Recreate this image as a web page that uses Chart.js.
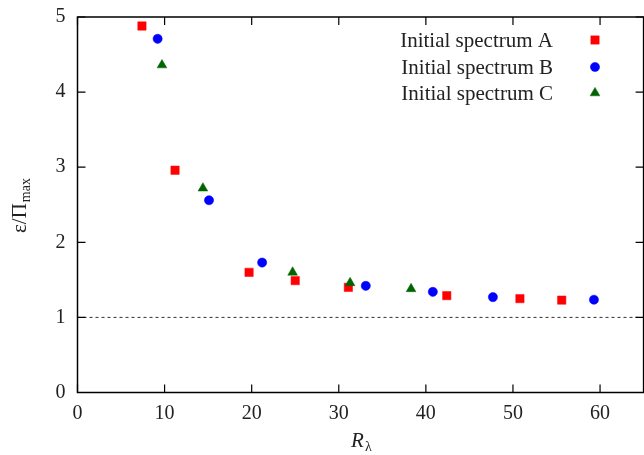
<!DOCTYPE html>
<html>
<head>
<meta charset="utf-8">
<script src="https://cdn.jsdelivr.net/npm/chart.js@4/dist/chart.umd.min.js"></script>
<style>
  html, body { margin: 0; padding: 0; background: #fff; overflow: hidden; }
  #wrap { width: 644px; height: 455px; overflow: hidden; }
</style>
</head>
<body>
<div id="wrap"><canvas id="dissChart" width="650" height="455"></canvas></div>
<script>

// R_lambda and eps/Pi_max for each initial spectrum
var specA_R = [7.4, 11.2, 19.7, 25.0, 31.1, 42.4, 50.8, 55.6];
var specA_E = [4.88, 2.96, 1.60, 1.49, 1.40, 1.29, 1.25, 1.23];

var specB_R = [9.2, 15.1, 21.2, 33.1, 40.8, 47.7, 59.3];
var specB_E = [4.71, 2.56, 1.73, 1.42, 1.34, 1.27, 1.235];

var specC_R = [9.7, 14.4, 24.7, 31.3, 38.3];
var specC_E = [4.36, 2.72, 1.60, 1.46, 1.38];

var seriesNames = ['Initial spectrum A', 'Initial spectrum B', 'Initial spectrum C'];
var refLevel = 1;
var xRange = [0, 65];
var yRange = [0, 5];

function toPoints(xs, ys) {
    return xs.map((x, i) => ({ x: x, y: ys[i] }));
}

const serif = '"Liberation Serif", "DejaVu Serif", serif';
const markerColors = ['#ff0000', '#0000ff', '#006400'];
const markerStyles = ['rect', 'circle', 'triangle'];
const markerSizes = [5.9, 4.6, 5.6];

// frame, inward ticks, axis titles and key
const decorPlugin = {
    id: 'decor',
    afterDraw(chart) {
        const ctx = chart.ctx;
        const a = chart.chartArea;
        const xs = chart.scales.x, ys = chart.scales.y;
        const tl = 8;
        ctx.save();
        ctx.strokeStyle = '#000';
        ctx.lineWidth = 1.5;
        ctx.strokeRect(a.left, a.top, a.right - a.left, a.bottom - a.top);
        ctx.lineWidth = 1.2;
        ctx.beginPath();
        xs.ticks.forEach(t => {
            const px = xs.getPixelForValue(t.value);
            ctx.moveTo(px, a.bottom); ctx.lineTo(px, a.bottom - tl);
            ctx.moveTo(px, a.top); ctx.lineTo(px, a.top + tl);
        });
        ys.ticks.forEach(t => {
            const py = ys.getPixelForValue(t.value);
            ctx.moveTo(a.left, py); ctx.lineTo(a.left + tl, py);
            ctx.moveTo(a.right, py); ctx.lineTo(a.right - tl, py);
        });
        ctx.stroke();

        // x title: R_lambda
        ctx.fillStyle = '#222';
        ctx.textBaseline = 'alphabetic';
        ctx.textAlign = 'left';
        ctx.font = 'italic 21px ' + serif;
        ctx.fillText('R', 351, 447);
        ctx.font = '14px ' + serif;
        ctx.fillText('λ', 365, 451);

        // y title: eps / Pi_max
        ctx.save();
        ctx.translate(26, 233);
        ctx.rotate(-Math.PI / 2);
        ctx.font = '21px ' + serif;
        ctx.fillText('ε/Π', 0, 0);
        const w = ctx.measureText('ε/Π').width;
        ctx.font = '14px ' + serif;
        ctx.fillText('max', w + 1, 4);
        ctx.restore();

        // key
        const rows = [40, 67, 93];
        ctx.font = '21px ' + serif;
        ctx.textAlign = 'right';
        seriesNames.forEach((name, i) => {
            ctx.fillStyle = '#222';
            ctx.fillText(name, 553, rows[i] + 7);
            ctx.fillStyle = markerColors[i];
            ctx.strokeStyle = markerColors[i];
            ctx.lineWidth = 0.5;
            Chart.helpers.drawPoint(ctx, { pointStyle: markerStyles[i], radius: markerSizes[i], rotation: 0, borderWidth: 0.5 }, 595, rows[i]);
        });
        ctx.restore();
    }
};

var ctx = document.getElementById('dissChart').getContext('2d');

function scatterSet(label, xs, ys, i) {
    return {
        label: label,
        data: toPoints(xs, ys),
        pointStyle: markerStyles[i],
        pointRadius: markerSizes[i],
        pointHoverRadius: markerSizes[i],
        backgroundColor: markerColors[i],
        borderColor: markerColors[i],
        borderWidth: 0.5,
        showLine: false,
        order: 3 - i
    };
}

var myChart = new Chart(ctx, {
    type: 'scatter',
    data: {
        datasets: [
            scatterSet(seriesNames[0], specA_R, specA_E, 0),
            scatterSet(seriesNames[1], specB_R, specB_E, 1),
            scatterSet(seriesNames[2], specC_R, specC_E, 2),
            {
                label: 'ref',
                type: 'line',
                data: [{ x: xRange[0], y: refLevel }, { x: xRange[1], y: refLevel }],
                borderColor: '#333',
                borderWidth: 1,
                borderDash: [3, 3],
                pointRadius: 0,
                order: 5
            }
        ]
    },
    options: {
        responsive: false,
        animation: false,
        devicePixelRatio: 1,
        layout: {
            padding: { left: 0, right: 4, top: 17, bottom: 0 }
        },
        scales: {
            x: {
                type: 'linear',
                min: xRange[0],
                max: xRange[1],
                afterFit: s => {
                    s.height = 62.5;
                    s.paddingLeft = 0; s.paddingRight = 0;
                },
                grid: { display: false, drawTicks: false },
                border: { display: false },
                ticks: {
                    stepSize: 10,
                    includeBounds: false,
                    maxRotation: 0,
                    padding: 9,
                    color: '#222',
                    font: { family: serif, size: 20 }
                }
            },
            y: {
                type: 'linear',
                min: yRange[0],
                max: yRange[1],
                afterFit: s => {
                    s.width = 77.5;
                    s.paddingTop = 0; s.paddingBottom = 0;
                },
                grid: { display: false, drawTicks: false },
                border: { display: false },
                ticks: {
                    stepSize: 1,
                    padding: 12,
                    color: '#222',
                    font: { family: serif, size: 20 }
                }
            }
        },
        plugins: {
            legend: { display: false },
            tooltip: { enabled: false }
        }
    },
    plugins: [decorPlugin]
});
</script>
</body>
</html>
